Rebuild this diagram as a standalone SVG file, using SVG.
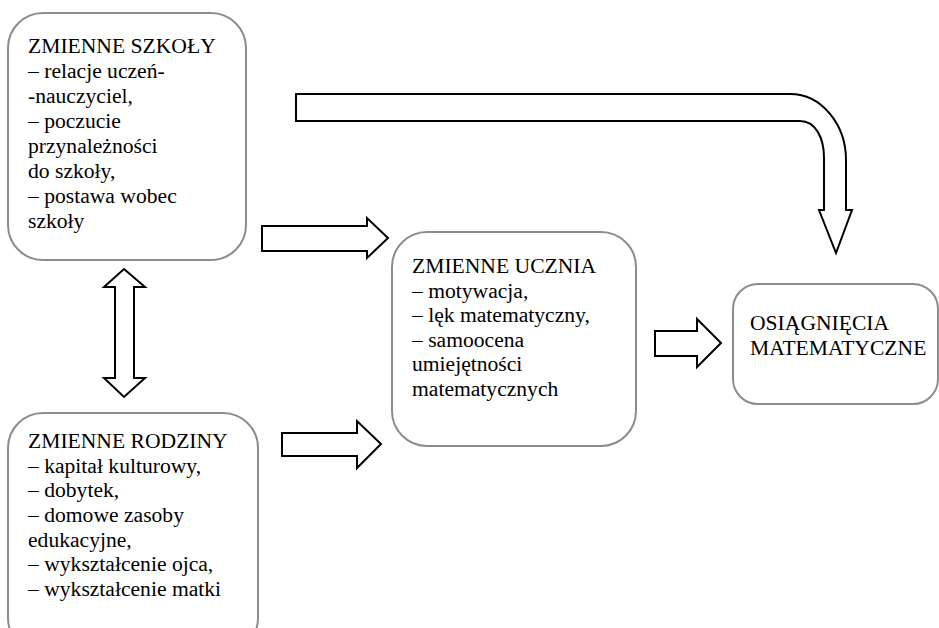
<svg xmlns="http://www.w3.org/2000/svg" width="939" height="628" viewBox="0 0 939 628">
<style>
.box{fill:#fff;stroke:#8c8c8c;stroke-width:2}
.arr{fill:#fff;stroke:#000;stroke-width:2;stroke-linejoin:miter}
.t{font-family:'Liberation Serif','Times New Roman',Tinos,'DejaVu Serif',serif;font-size:21.6px;fill:#000}
</style>
<rect width="939" height="628" fill="#fff"/>
<g id="connectors">
<path class="arr" d="M296,94 L790,94 C822,94 846,125 846,160 L846,210 L852,210 L836,253 L819,210 L824,210 L824,158 C824,137 815,121 800,121 L296,121 Z"/>
<path class="arr" d="M262,226 L367,226 L367,218 L388,238 L367,258 L367,251 L262,251 Z"/>
<path class="arr" d="M282,433 L357,433 L357,421 L381,444 L357,468 L357,456 L282,456 Z"/>
<path class="arr" d="M655,331 L697,331 L697,319 L721,343 L697,367 L697,356 L655,356 Z"/>
<path class="arr" d="M124,269 L145,287 L134,287 L134,378 L145,378 L124,397 L104,378 L115,378 L115,287 L104,287 Z"/>
</g>
<g id="szkoly" class="t" font-family="Liberation Serif, serif">
<rect class="box" x="8" y="13" width="238" height="247" rx="35"/>
<text x="28" y="53">ZMIENNE SZKOŁY</text>
<text x="28" y="78">– relacje uczeń-</text>
<text x="28" y="103">-nauczyciel,</text>
<text x="28" y="128">– poczucie</text>
<text x="28" y="153">przynależności</text>
<text x="28" y="178">do szkoły,</text>
<text x="28" y="203">– postawa wobec</text>
<text x="28" y="228">szkoły</text>
</g>
<g id="rodziny" class="t" font-family="Liberation Serif, serif">
<rect class="box" x="8" y="413" width="250" height="240" rx="35"/>
<text x="28" y="448">ZMIENNE RODZINY</text>
<text x="28" y="473">– kapitał kulturowy,</text>
<text x="28" y="497">– dobytek,</text>
<text x="28" y="522">– domowe zasoby</text>
<text x="28" y="547">edukacyjne,</text>
<text x="28" y="571">– wykształcenie ojca,</text>
<text x="28" y="596">– wykształcenie matki</text>
</g>
<g id="ucznia" class="t" font-family="Liberation Serif, serif">
<rect class="box" x="392" y="232" width="244" height="214" rx="35"/>
<text x="412" y="273">ZMIENNE UCZNIA</text>
<text x="412" y="298">– motywacja,</text>
<text x="412" y="322">– lęk matematyczny,</text>
<text x="412" y="347">– samoocena</text>
<text x="412" y="371">umiejętności</text>
<text x="412" y="396">matematycznych</text>
</g>
<g id="osiagniecia" class="t" font-family="Liberation Serif, serif">
<rect class="box" x="733" y="284" width="205" height="120" rx="25"/>
<text x="750" y="330">OSIĄGNIĘCIA</text>
<text x="750" y="355">MATEMATYCZNE</text>
</g>
</svg>
